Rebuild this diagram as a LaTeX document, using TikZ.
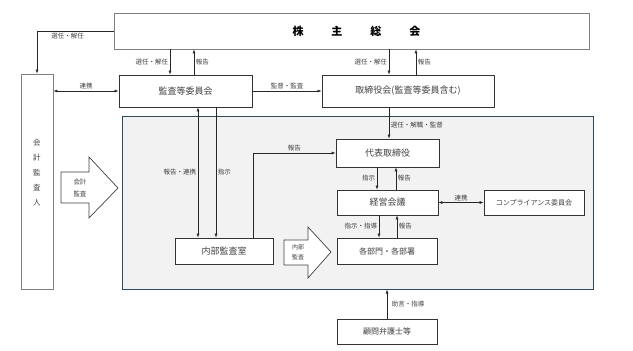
\documentclass[tikz,border=0pt]{standalone}
\usepackage{fontspec}
\setmainfont{Noto Sans CJK JP}
\usetikzlibrary{arrows.meta}
\definecolor{framecol}{HTML}{2E4A5E}
\definecolor{framefill}{HTML}{F2F2F2}
\definecolor{txtgray}{HTML}{404040}

\begin{document}
\begin{tikzpicture}[x=1pt, y=-1pt,
    box/.style={draw=black!80, fill=white, line width=0.8pt, inner sep=0pt, font=\fontsize{9}{10}\selectfont, text=txtgray},
    lbl/.style={font=\fontsize{6.5}{7}\selectfont, text=txtgray, inner sep=1.5pt},
    arrow/.style={-{Latex[length=4pt,width=3pt]}, line width=0.6pt, black!85},
    dblarrow/.style={{Latex[length=4pt,width=3pt]}-{Latex[length=4pt,width=3pt]}, line width=0.6pt, black!85},
    bigarrow/.style={draw=black!75, fill=white, line width=0.7pt}
]
    \useasboundingbox (0,0) rectangle (633,351);
    % gray frame
    \node[draw=framecol, fill=framefill, line width=1pt, minimum width=471pt, minimum height=173pt] (frame) at (357.5,202.5) {};

    \node[box, draw=gray, minimum width=475pt, minimum height=36pt, font=\fontsize{11}{12}\selectfont\bfseries, text=black] (kabu) at (351.5,31) {\hspace*{10pt}株\hspace{28pt}主\hspace{28pt}総\hspace{28pt}会};
    \node[box, draw=gray, minimum width=32pt, minimum height=215pt] (kaikei) at (37,181.5) {};
    \node[lbl, align=center, font=\fontsize{7.5}{15}\selectfont] (kaikeitxt) at (37,172.5) {会\\計\\監\\査\\人};
    \node[box, minimum width=133pt, minimum height=32pt] (kansa) at (185.5,91) {監査等委員会};
    \node[box, minimum width=172pt, minimum height=32pt] (torishimari) at (408,91) {取締役会(監査等委員含む)};
    \node[box, minimum width=103pt, minimum height=28pt] (daihyo) at (387.5,153) {代表取締役};
    \node[box, minimum width=101pt, minimum height=25pt] (keiei) at (387.5,202.5) {経営会議};
    \node[box, minimum width=100pt, minimum height=25pt, font=\fontsize{7}{8}\selectfont] (comp) at (534,202.5) {コンプライアンス委員会};
    \node[box, minimum width=98pt, minimum height=26pt] (naibu) at (224,251) {内部監査室};
    \node[box, minimum width=100pt, minimum height=26pt, font=\fontsize{8}{9}\selectfont] (kakubu) at (387,251) {各部門・各部署};
    \node[box, minimum width=100pt, minimum height=25pt, font=\fontsize{8}{9}\selectfont] (komon) at (387,331.5) {顧問弁護士等};

    % audit arrows
    \draw[bigarrow] (61,172) -- (89,172) -- (89,157) -- (118,188) -- (89,218) -- (89,203) -- (61,203) -- cycle;
    \node[lbl, align=center, font=\fontsize{6.5}{12}\selectfont] (kaikeiarrow) at (80,188) {会計\\監査};
    \draw[bigarrow] (284,240) -- (308,240) -- (308,227) -- (331,252) -- (308,278) -- (308,265) -- (284,265) -- cycle;
    \node[lbl, align=center, font=\fontsize{6}{10}\selectfont] (naibuarrow) at (298,252) {内部\\監査};

    \draw[arrow] (kabu.west) -| node[below, pos=0.3, lbl] {選任・解任} (kaikei.north);
    \draw[arrow] ([xshift=-15.5pt]kansa.north |- kabu.south) -- node[left, lbl] {選任・解任} ([xshift=-15.5pt]kansa.north);
    \draw[arrow] ([xshift=8.5pt]kansa.north) -- node[right, lbl] {報告} ([xshift=8.5pt]kansa.north |- kabu.south);
    \draw[dblarrow] (kaikei.east |- kansa.west) -- node[above, lbl] {連携} (kansa.west);
    \draw[arrow] (kansa.east) -- node[above, lbl] {監督・監査} (torishimari.west);
    \draw[arrow] ([xshift=-19pt]torishimari.north |- kabu.south) -- node[left, lbl] {選任・解任} ([xshift=-19pt]torishimari.north);
    \draw[arrow] ([xshift=8pt]torishimari.north) -- node[right, lbl] {報告} ([xshift=8pt]torishimari.north |- kabu.south);
    \draw[arrow] ([xshift=-19pt]torishimari.south) -- node[right, pos=0.55, lbl] {選任・解職・監督} ([xshift=-19pt]torishimari.south |- daihyo.north);
    \draw[dblarrow] ([xshift=12.5pt]kansa.south) -- node[left, lbl] {報告・連携} ([xshift=12.5pt]kansa.south |- naibu.north);
    \draw[arrow] ([xshift=30.5pt]kansa.south) -- node[right, lbl] {指示} ([xshift=30.5pt]kansa.south |- naibu.north);
    \draw[arrow] ([xshift=29pt]naibu.north) |- node[above, pos=0.75, lbl] {報告} (daihyo.west);
    \draw[arrow] ([xshift=-10.5pt]daihyo.south) -- node[left, lbl] {指示} ([xshift=-10.5pt]daihyo.south |- keiei.north);
    \draw[arrow] ([xshift=8.5pt]keiei.north) -- node[right, lbl] {報告} ([xshift=8.5pt]keiei.north |- daihyo.south);
    \draw[dblarrow] (keiei.east) -- node[above, lbl] {連携} (comp.west);
    \draw[arrow] ([xshift=-8.5pt]keiei.south) -- node[left, lbl] {指示・指導} ([xshift=-8.5pt]keiei.south |- kakubu.north);
    \draw[arrow] ([xshift=10pt]kakubu.north) -- node[right, lbl] {報告} ([xshift=10pt]kakubu.north |- keiei.south);
    \draw[arrow] (komon.north) -- node[right, xshift=3pt, lbl] {助言・指導} (komon.north |- frame.south);
\end{tikzpicture}
\end{document}
